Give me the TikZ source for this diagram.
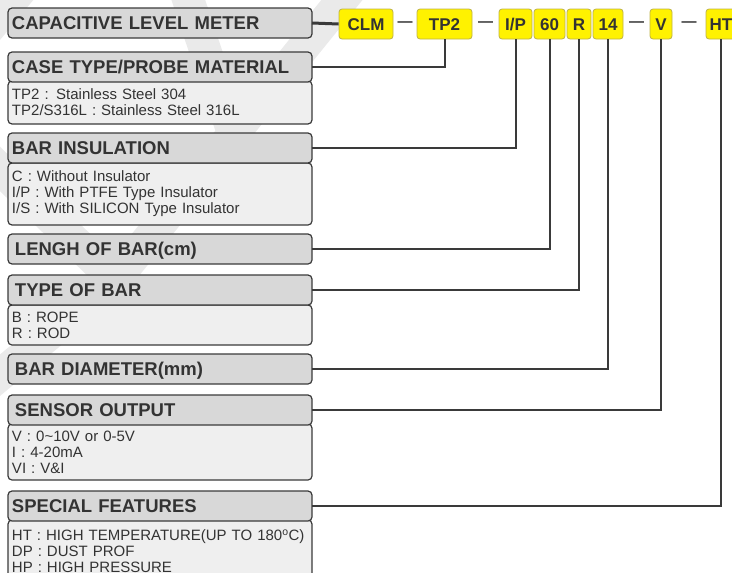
\documentclass[tikz,border=0pt]{standalone}
\usepackage{fontspec}
\setmainfont{Liberation Sans}
\usepackage{xcolor}
\usepackage{tikz}
\usetikzlibrary{calc}
\definecolor{myDark}{RGB}{51,51,51}
\definecolor{myLine}{RGB}{58,58,58}
\definecolor{myHead}{RGB}{216,216,216}
\definecolor{myDesc}{RGB}{239,239,239}
\definecolor{myYellow}{RGB}{255,242,0}
\definecolor{myYellowEdge}{RGB}{190,178,70}
\definecolor{myMark}{RGB}{234,234,234}

\begin{document}
\begin{tikzpicture}[x=1pt,y=-1pt]
\tikzset{
    head block/.style={
        rectangle, anchor=north west, outer sep=0pt,
        minimum width=304pt, minimum height=30pt,
        text width=296pt, inner xsep=4pt, inner ysep=0pt, align=left,
        text height=13.3pt, text depth=0pt,
        rounded corners=4pt, fill=myHead, draw=myLine, line width=1.2pt,
        text=myDark, font=\fontsize{18.5}{20}\selectfont\bfseries
    },
    desc block/.style={
        rectangle, anchor=north west, outer sep=0pt,
        minimum width=304pt,
        text width=296pt, inner xsep=4pt, inner ysep=0pt, align=left,
        rounded corners=4pt, fill=myDesc, draw=myLine, line width=1.2pt,
        text=myDark, font=\fontsize{15}{16}\selectfont
    },
    code block/.style={
        rectangle, minimum height=30pt, inner sep=0pt,
        text height=12.2pt, text depth=0pt,
        rounded corners=3pt, fill=myYellow, draw=myYellowEdge, line width=0.8pt,
        text=myDark, font=\fontsize{17}{18}\selectfont\bfseries
    },
    sep dash/.style={
        inner sep=0pt, text=myDark, font=\fontsize{15}{16}\selectfont\bfseries
    },
    link/.style={draw=myLine, line width=2pt},
    watermark/.style={draw=myMark, line width=32pt}
}
\clip (0,0) rectangle (732,573);

% Fundal
\draw[watermark] (185,-10) -- (232,130);
\draw[watermark] (350,-10) -- (115,280);
\draw[watermark] (-30,140) -- (115,280) -- (-30,400);
\draw[watermark] (-25,45) -- (25,-15);

% Descrieri
\node[desc block, minimum height=43pt] (caseD) at (8,81)
    {TP2 : Stainless Steel 304\\TP2/S316L : Stainless Steel 316L};
\node[desc block, minimum height=62pt] (insD) at (8,163)
    {C : Without Insulator\\I/P : With PTFE Type Insulator\\I/S : With SILICON Type Insulator};
\node[desc block, minimum height=40pt] (typeD) at (8,305)
    {B : ROPE\\R : ROD};
\node[desc block, minimum height=56pt] (outD) at (8,424)
    {V : 0\textasciitilde10V or 0-5V\\I : 4-20mA\\VI : V\&I};
\node[desc block, minimum height=62pt] (specD) at (8,520)
    {HT : HIGH TEMPERATURE(UP TO 180\textsuperscript{o}C)\\DP : DUST PROF\\HP : HIGH PRESSURE};

% Antete
\node[head block] (cap)  at (8,8)   {CAPACITIVE LEVEL METER};
\node[head block] (case) at (8,52)  {CASE TYPE/PROBE MATERIAL};
\node[head block] (ins)  at (8,133) {BAR INSULATION};
\node[head block] (len)  at (8,234) {\hspace*{3pt}LENGH OF BAR(cm)};
\node[head block] (type) at (8,275) {\hspace*{3pt}TYPE OF BAR};
\node[head block] (dia)  at (8,354) {\hspace*{3pt}BAR DIAMETER(mm)};
\node[head block] (out)  at (8,395) {\hspace*{3pt}SENSOR OUTPUT};
\node[head block] (spec) at (8,491) {SPECIAL FEATURES};

% Coduri
\node[code block, minimum width=54pt] (clmC)  at (366,24)   {CLM};
\node[code block, minimum width=55pt] (caseC) at (444.5,24) {TP2};
\node[code block, minimum width=33pt] (insC)  at (515.5,24) {I/P};
\node[code block, minimum width=31pt] (lenC)  at (549.5,24) {60};
\node[code block, minimum width=24pt] (typeC) at (579,24)   {R};
\node[code block, minimum width=30pt] (diaC)  at (608,24)   {14};
\node[code block, minimum width=22pt] (outC)  at (661,24)   {V};
\node[code block, minimum width=30pt] (specC) at (721,24)   {HT};

\node[sep dash] (d1) at ($(clmC.east)!0.5!(caseC.west)$) {—};
\node[sep dash] (d2) at ($(caseC.east)!0.5!(insC.west)$) {—};
\node[sep dash] (d3) at ($(diaC.east)!0.5!(outC.west)$)  {—};
\node[sep dash] (d4) at ($(outC.east)!0.5!(specC.west)$) {—};

% Legaturi
\draw[link, line width=3pt] (cap.east) -- (clmC.west);
\draw[link] (case.east) -| (caseC.south);
\draw[link] (ins.east)  -| (insC.south);
\draw[link] (len.east)  -| (lenC.south);
\draw[link] (type.east) -| (typeC.south);
\draw[link] (dia.east)  -| (diaC.south);
\draw[link] (out.east)  -| (outC.south);
\draw[link] (spec.east) -| (specC.south);
\end{tikzpicture}
\end{document}
